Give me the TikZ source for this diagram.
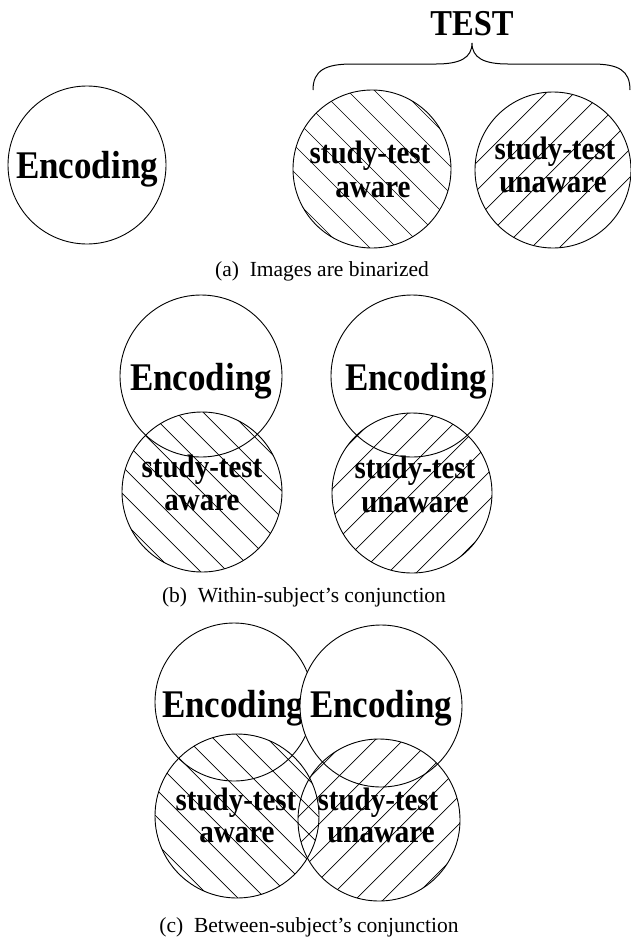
\documentclass[tikz,border=0pt]{standalone}
\usepackage{fontspec}
\setmainfont{Liberation Serif}
\usepackage{graphicx}
\newcommand\stretchtext[1]{\scalebox{1}[1.12]{#1}}
% hatching from upper left to lower right (x, y in pixel units, y downwards)
\newcommand\hatchdown[3]{%
  \begin{scope}
    \clip (#1,#2) circle[radius=#3pt];
    \foreach \k in {-8,...,8}{
      \draw[hatchline] ({#1+\k*27-130},{#2-130}) -- ({#1+\k*27+130},{#2+130});
    }
  \end{scope}}
% hatching from lower left to upper right
\newcommand\hatchup[3]{%
  \begin{scope}
    \clip (#1,#2) circle[radius=#3pt];
    \foreach \k in {-8,...,8}{
      \draw[hatchline] ({#1+\k*28-130},{#2+130}) -- ({#1+\k*28+130},{#2-130});
    }
  \end{scope}}
\begin{document}
\begin{tikzpicture}[x=1pt,y=-1pt,
  ring/.style={circle, draw=black, line width=0.9pt, inner sep=0pt, minimum size=#1},
  hatchline/.style={draw=black, line width=0.7pt},
  biglbl/.style={anchor=base, inner sep=0pt, font=\fontsize{35}{40}\selectfont\bfseries},
  midlbl/.style={anchor=base, inner sep=0pt, font=\fontsize{29}{33}\selectfont\bfseries},
  testlbl/.style={anchor=base, inner sep=0pt, font=\fontsize{32.5}{36}\selectfont\bfseries},
  caplbl/.style={anchor=base, inner sep=0pt, font=\fontsize{21.5}{25}\selectfont},
  bracestyle/.style={draw=black, line width=1pt}]
\fill[white] (0,0) rectangle (631,938);
\useasboundingbox (0,0) rectangle (631,938);

% ---------------- (a) ----------------
\node[ring=158pt] (encA) at (87,165) {};
\node[biglbl] (encAt) at (87,178) {\stretchtext{Encoding}};

\hatchdown{372}{169}{79}
\node[ring=158pt] (awA) at (372,169) {};
\hatchup{553}{170}{78}
\node[ring=156pt] (unA) at (553,170) {};
\node[midlbl] (awA1) at (370,163) {\stretchtext{study-test}};
\node[midlbl] (awA2) at (373,197) {\stretchtext{aware}};
\node[midlbl] (unA1) at (555,159) {\stretchtext{study-test}};
\node[midlbl] (unA2) at (553,192) {\stretchtext{unaware}};

\node[testlbl] (test) at (472,35) {\stretchtext{TEST}};
\coordinate (brL) at (313,90);
\coordinate (brR) at (630,90);
\coordinate (brT) at (472,43);
\draw[bracestyle] (brL) .. controls (313,70) and (326,64) .. (352,64) -- (436,64)
  .. controls (460,64) and (472,58) .. (brT)
  .. controls (472,58) and (484,64) .. (508,64) -- (592,64)
  .. controls (618,64) and (630,70) .. (brR);

\node[caplbl] (capA) at (322,276) {(a)\ \ Images are binarized};

% ---------------- (b) ----------------
\node[ring=162pt] (encB1) at (201,376) {};
\node[ring=162pt] (encB2) at (412,376) {};
\node[biglbl] (encB1t) at (201,390) {\stretchtext{Encoding}};
\node[biglbl] (encB2t) at (416,390) {\stretchtext{Encoding}};

\hatchdown{202}{492}{80}
\node[ring=160pt] (awB) at (202,492) {};
\hatchup{412}{493}{80}
\node[ring=160pt] (unB) at (412,493) {};
\node[midlbl] (awB1) at (202,477) {\stretchtext{study-test}};
\node[midlbl] (awB2) at (202,510) {\stretchtext{aware}};
\node[midlbl] (unB1) at (415,478) {\stretchtext{study-test}};
\node[midlbl] (unB2) at (415,512) {\stretchtext{unaware}};

\node[caplbl] (capB) at (304,602) {(b)\ \ Within-subject's conjunction};

% ---------------- (c) ----------------
\node[ring=158pt] (encC1) at (234,702) {};
\node[biglbl] (encC1t) at (233,717) {\stretchtext{Encoding}};
\node[ring=162pt, fill=white] (encC2) at (381,706) {};
\node[biglbl] (encC2t) at (381,717) {\stretchtext{Encoding}};

\hatchdown{237}{816}{82}
\node[ring=164pt] (awC) at (237,816) {};
\hatchup{379}{820}{81}
\node[ring=162pt] (unC) at (379,820) {};
\node[midlbl] (awC1) at (236,810) {\stretchtext{study-test}};
\node[midlbl] (awC2) at (237,842) {\stretchtext{aware}};
\node[midlbl] (unC1) at (378,810) {\stretchtext{study-test}};
\node[midlbl] (unC2) at (381,842) {\stretchtext{unaware}};

\node[caplbl] (capC) at (309,932) {(c)\ \ Between-subject's conjunction};
\end{tikzpicture}
\end{document}
